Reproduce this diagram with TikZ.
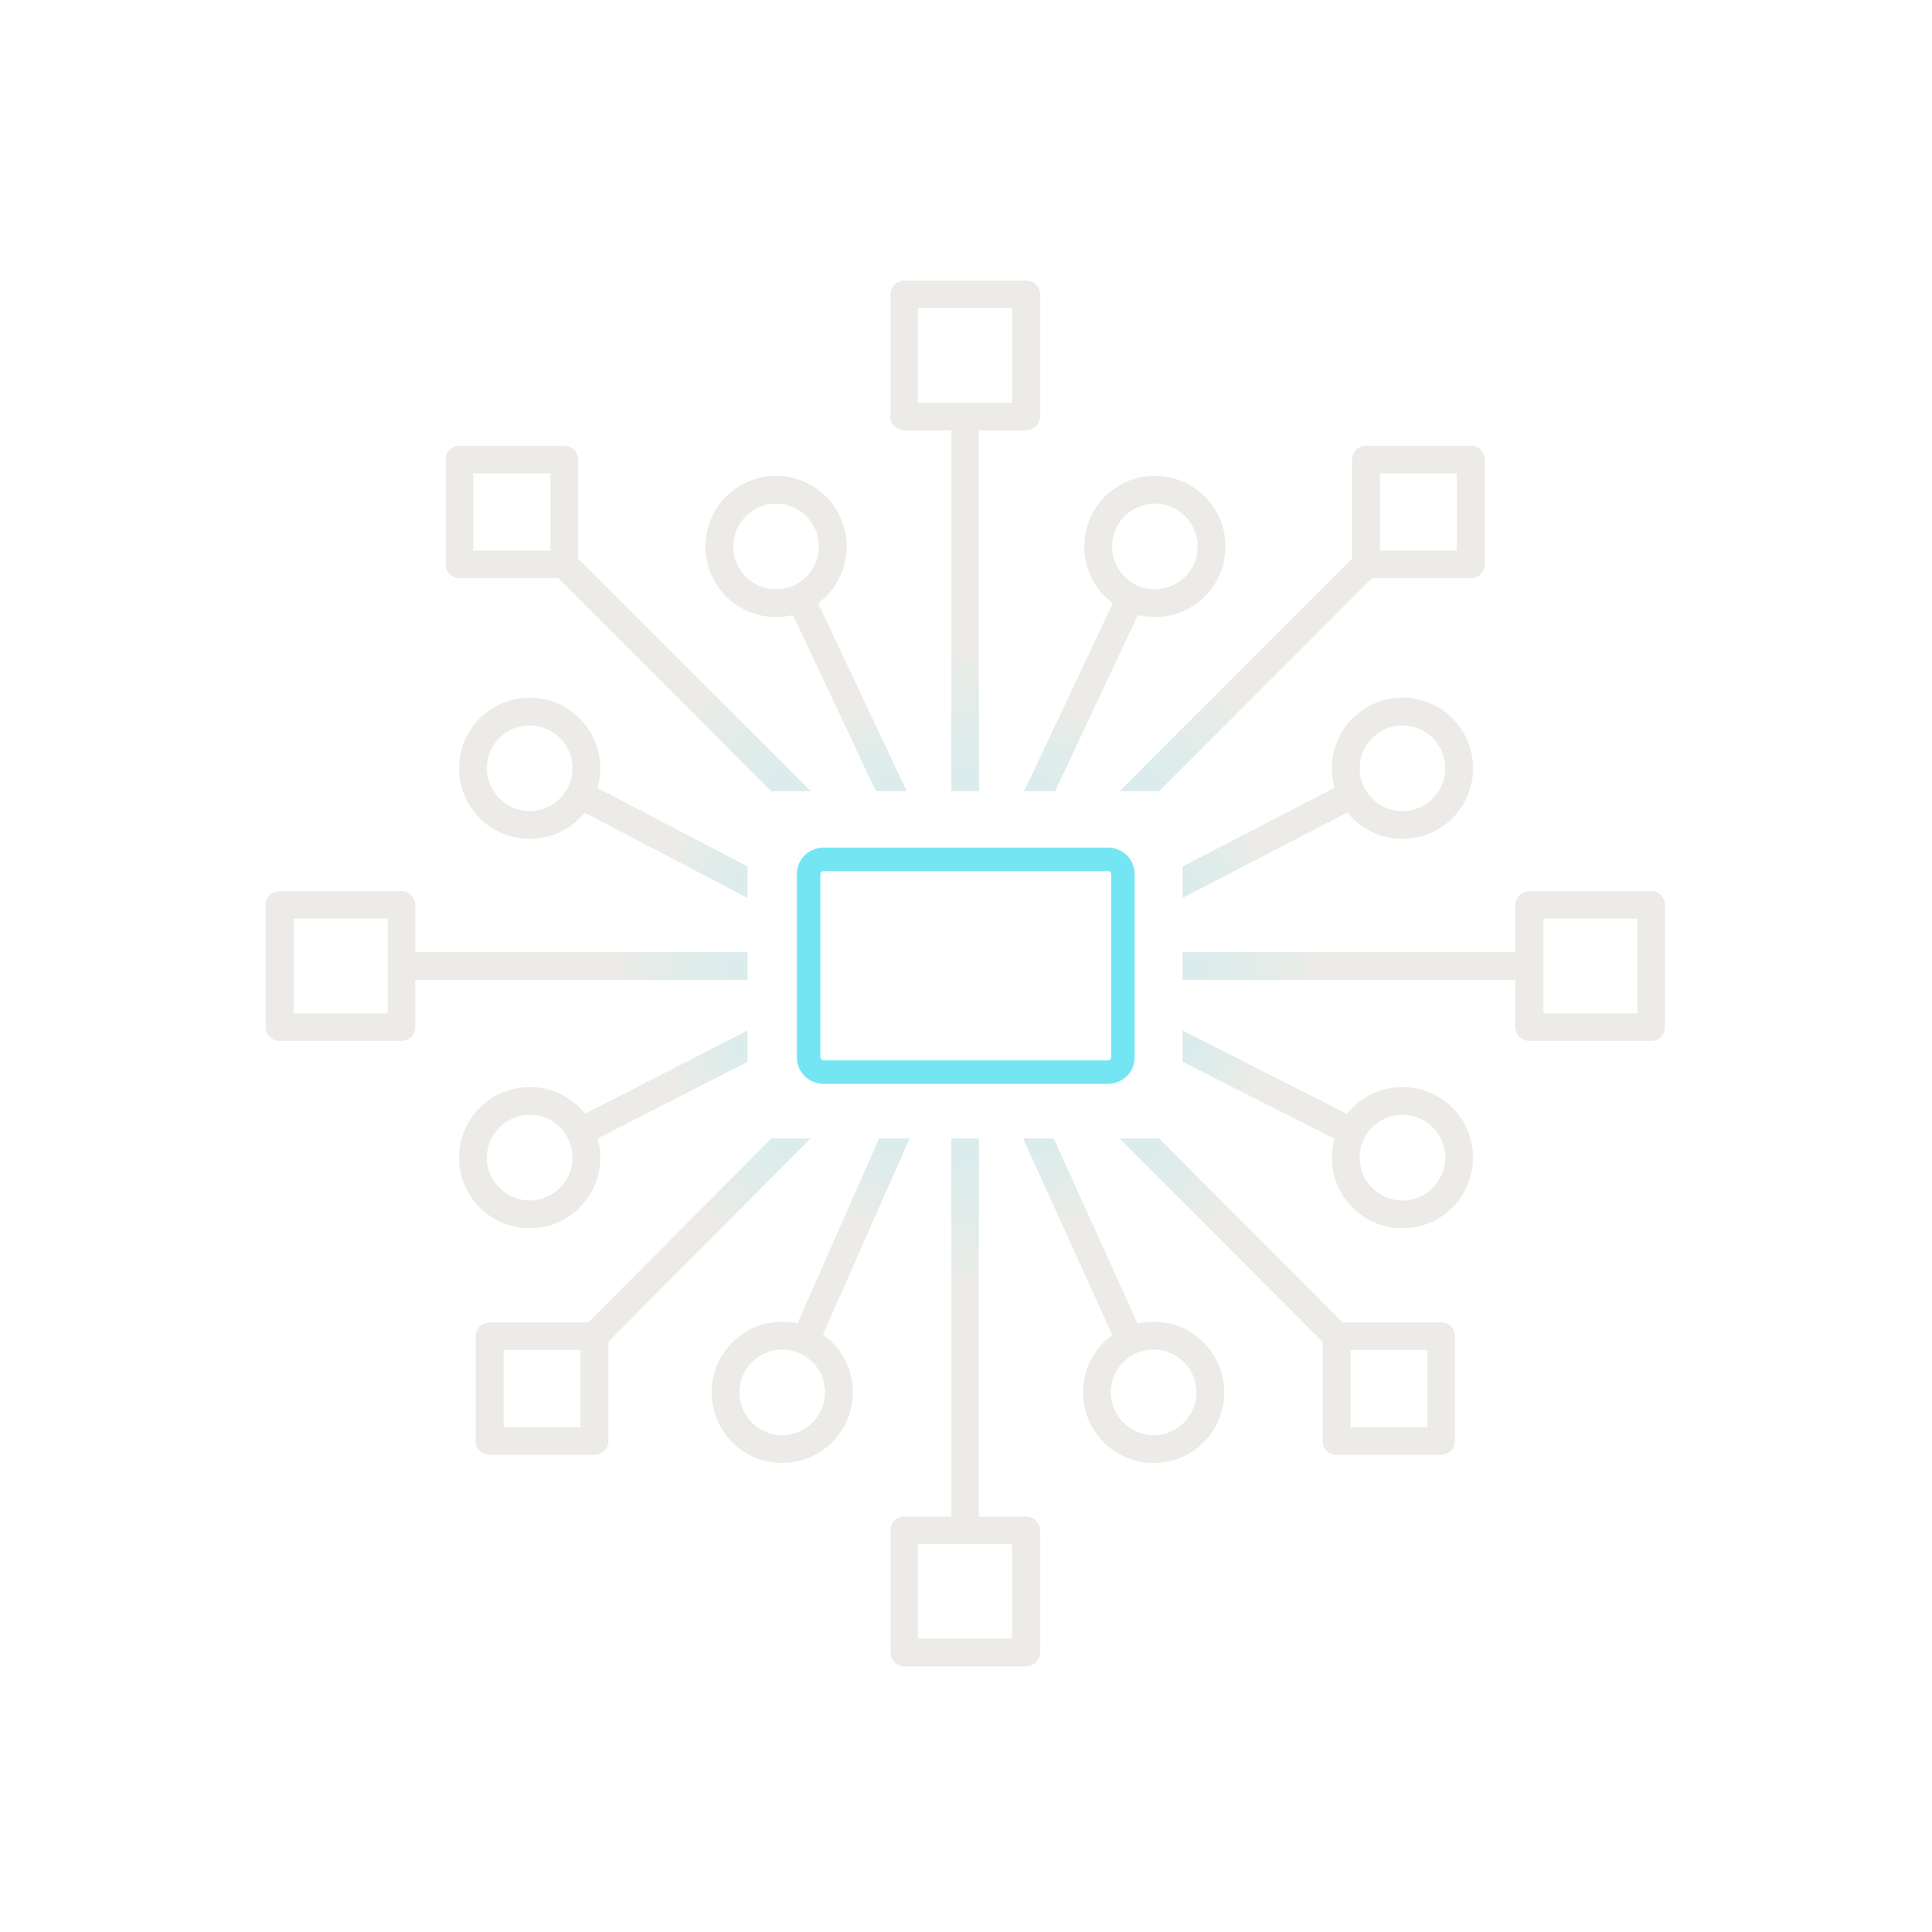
\documentclass[tikz,border=0pt]{standalone}
\usetikzlibrary{backgrounds,calc}
\definecolor{hubcyan}{HTML}{74E6F3}
\definecolor{linkgray}{HTML}{ECEBE7}
\definecolor{linktint}{HTML}{D6F0F0}

\begin{document}
\begin{tikzpicture}[x=0.01cm, y=-0.01cm,
		sq/.style={draw=linkgray, fill=white, line width=0.225cm, minimum size=0.99cm, inner sep=0pt, outer sep=0pt, line join=round},
		smallsq/.style={sq, minimum size=0.85cm},
		ring/.style={circle, draw=linkgray, fill=white, line width=0.225cm, minimum size=0.92cm, inner sep=0pt, outer sep=0pt},
		spoke/.style={draw=linkgray, line width=0.225cm, shorten >=-0.3cm},
		glow/.style={draw=linktint, line width=0.225cm, shorten >=-0.3cm, draw opacity=0.2}]
	\useasboundingbox (0,0) rectangle (1568,1568);
	% squares
	\node[sq] (top) at (783.5,288.5) {};
	\node[sq] (bot) at (783.5,1291.5) {};
	\node[sq] (left) at (276.5,784) {};
	\node[sq] (right) at (1291,784) {};
	\node[smallsq] (nw) at (415.5,415.5) {};
	\node[smallsq] (ne) at (1151.5,415.5) {};
	\node[smallsq] (sw) at (440,1127) {};
	\node[smallsq] (se) at (1127.5,1127) {};
	% rings
	\node[ring] (r1) at (630,443.5) {};
	\node[ring] (r2) at (937.5,443.5) {};
	\node[ring] (r3) at (430,623.5) {};
	\node[ring] (r4) at (1138.5,623.5) {};
	\node[ring] (r5) at (430,939.5) {};
	\node[ring] (r6) at (1138.5,939.5) {};
	\node[ring] (r7) at (635,1130) {};
	\node[ring] (r8) at (936.5,1130) {};
	% where the spokes stop
	\coordinate (e-top) at (783.5,642);
	\coordinate (e-bot) at (783.5,924);
	\coordinate (e-left) at (607,784);
	\coordinate (e-right) at (960,784);
	\coordinate (e-nw) at (642,642);
	\coordinate (e-ne) at (925,642);
	\coordinate (e-sw) at (642,924);
	\coordinate (e-se) at (925,924);
	\coordinate (e-r1) at (723.5,642);
	\coordinate (e-r2) at (844,642);
	\coordinate (e-r3) at (607,716);
	\coordinate (e-r4) at (960,716);
	\coordinate (e-r5) at (607,849);
	\coordinate (e-r6) at (960,849);
	\coordinate (e-r7) at (726,924);
	\coordinate (e-r8) at (843,924);
	\begin{scope}[on background layer]
		\foreach \n in {top,bot,left,right,nw,ne,sw,se,r1,r2,r3,r4,r5,r6,r7,r8} {
			\draw[spoke] (\n.center) -- (e-\n);
			\foreach \t in {0.70,0.76,0.82,0.88,0.94}
				\draw[glow] ($(\n.center)!\t!(e-\n)$) -- (e-\n);
		}
	\end{scope}
	\fill[white] (607,642) rectangle (960,924);
	\node[draw=hubcyan, line width=0.19cm, rounded corners=0.12cm, minimum width=2.55cm, minimum height=1.725cm, inner sep=0pt] (hub) at (784,783.75) {};
\end{tikzpicture}
\end{document}
